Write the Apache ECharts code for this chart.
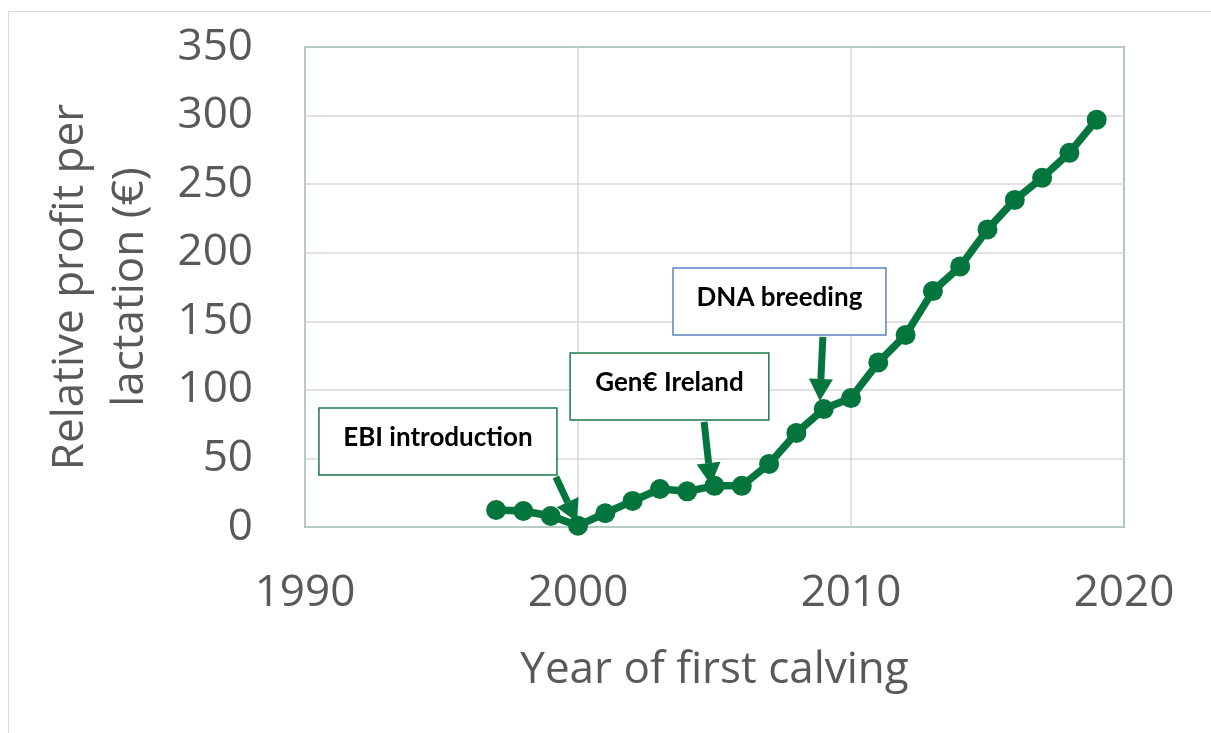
<!DOCTYPE html>
<html>
<head>
<meta charset="utf-8">
<script src="https://cdn.jsdelivr.net/npm/echarts@6/dist/echarts.min.js"></script>
<style>
  html, body { margin: 0; padding: 0; background: #fff; overflow: hidden; }
  .frame { position: absolute; left: 8px; top: 11px; width: 1300px; height: 800px;
    border-left: 1.5px solid #d9d9d9; border-top: 1.5px solid #d9d9d9; }
  #chart { position: absolute; left: 0; top: 0; width: 1211px; height: 733px; }
</style>
</head>
<body>
<div class="frame"></div>
<div id="chart"></div>
<script>
// data
const years = [1997, 1998, 1999, 2000, 2001, 2002, 2003, 2004, 2005, 2006, 2007, 2008,
  2009, 2010, 2011, 2012, 2013, 2014, 2015, 2016, 2017, 2018, 2019]
const profit = [12.4, 11.7, 8, 1, 10, 19, 27.7, 26, 30, 30, 46, 68.6,
  86, 94, 120, 140, 172, 190, 217, 238.5, 254.6, 272.8, 297]
const xTicks = [1990, 2000, 2010, 2020]
const yTicks = [0, 50, 100, 150, 200, 250, 300, 350]

// annotation boxes (data coords: x1, y1, x2, y2) and arrows
const noteLabels = ['EBI introduction', 'Gen€ Ireland', 'DNA breeding']
const noteBoxes = [[1990.51, 86.8, 1999.23, 37.9], [1999.71, 126.9, 2006.99, 78.0], [2003.48, 188.9, 2011.28, 140.0]]
const noteBorders = ['#1a7a48', '#1a7a48', '#5b84c4']
const arrowFrom = [[1999.19, 36.5], [2004.62, 76.6], [2008.97, 138.6]]
const arrowTo = [[1999.96, 3.6], [2004.87, 30.6], [2008.86, 91.9]]

const GREEN = '#05753e'
const FONT = '"Open Sans", Lato, sans-serif'

const chart = echarts.init(document.getElementById('chart'))

chart.setOption({
  animation: false,
  grid: {
    left: 305, right: 87, top: 47, bottom: 206,
    outerBoundsMode: 'none',
    show: true, borderColor: GREEN, borderWidth: 1.5,
  },
  xAxis: {
    type: 'value',
    min: xTicks[0], max: xTicks[xTicks.length - 1], interval: 10,
    name: 'Year of first calving',
    nameLocation: 'middle',
    nameGap: 121,
    nameTextStyle: { color: '#595959', fontSize: 44, fontFamily: FONT },
    axisLine: { show: true, lineStyle: { color: '#b9cdc1', width: 1.5 } },
    axisTick: { show: false },
    axisLabel: { color: '#595959', fontSize: 44, fontFamily: FONT, margin: 44, formatter: v => String(v) },
    splitLine: { lineStyle: { color: '#d9d9d9', width: 1.5 } },
  },
  yAxis: {
    type: 'value',
    min: yTicks[0], max: yTicks[yTicks.length - 1], interval: 50,
    name: 'Relative profit per\nlactation (€)',
    nameLocation: 'middle',
    nameGap: 145,
    nameTextStyle: { color: '#595959', fontSize: 44, fontFamily: FONT, lineHeight: 60 },
    axisLine: { show: true, lineStyle: { color: '#b9cdc1', width: 1.5 } },
    axisTick: { show: false },
    axisLabel: { color: '#595959', fontSize: 44, fontFamily: FONT, margin: 52 },
    splitLine: { lineStyle: { color: '#d9d9d9', width: 1.5 } },
  },
  series: [{
    type: 'line',
    data: years.map((y, i) => [y, profit[i]]),
    symbol: 'circle',
    symbolSize: 20,
    lineStyle: { color: GREEN, width: 7.5 },
    itemStyle: { color: GREEN },
    z: 3,
  }],
})

function drawNotes() {
  const els = []
  noteBoxes.forEach((b, i) => {
    const p1 = chart.convertToPixel({ gridIndex: 0 }, [b[0], b[1]])
    const p2 = chart.convertToPixel({ gridIndex: 0 }, [b[2], b[3]])
    els.push({
      type: 'rect', z: 5,
      shape: { x: p1[0], y: p1[1], width: p2[0] - p1[0], height: p2[1] - p1[1] },
      style: { fill: '#fff', stroke: noteBorders[i], lineWidth: 1.5 },
    })
    els.push({
      type: 'text', z: 6,
      x: (p1[0] + p2[0]) / 2, y: p1[1] + 30,
      style: { text: noteLabels[i], fill: '#000', font: 'bold 26px Lato, sans-serif', align: 'center', verticalAlign: 'middle' },
    })
  })
  arrowFrom.forEach((f, i) => {
    const a = chart.convertToPixel({ gridIndex: 0 }, f)
    const b = chart.convertToPixel({ gridIndex: 0 }, arrowTo[i])
    const dx = b[0] - a[0], dy = b[1] - a[1]
    const len = Math.sqrt(dx * dx + dy * dy)
    const ux = dx / len, uy = dy / len
    const head = 22, half = 12
    const bx = b[0] - ux * head, by = b[1] - uy * head
    els.push({
      type: 'line', z: 7,
      shape: { x1: a[0], y1: a[1], x2: bx, y2: by },
      style: { stroke: GREEN, lineWidth: 7 },
    })
    els.push({
      type: 'polygon', z: 7,
      shape: { points: [[b[0], b[1]], [bx - uy * half, by + ux * half], [bx + uy * half, by - ux * half]] },
      style: { fill: GREEN },
    })
  })
  chart.setOption({ graphic: { elements: els } })
}

drawNotes()
</script>
</body>
</html>
